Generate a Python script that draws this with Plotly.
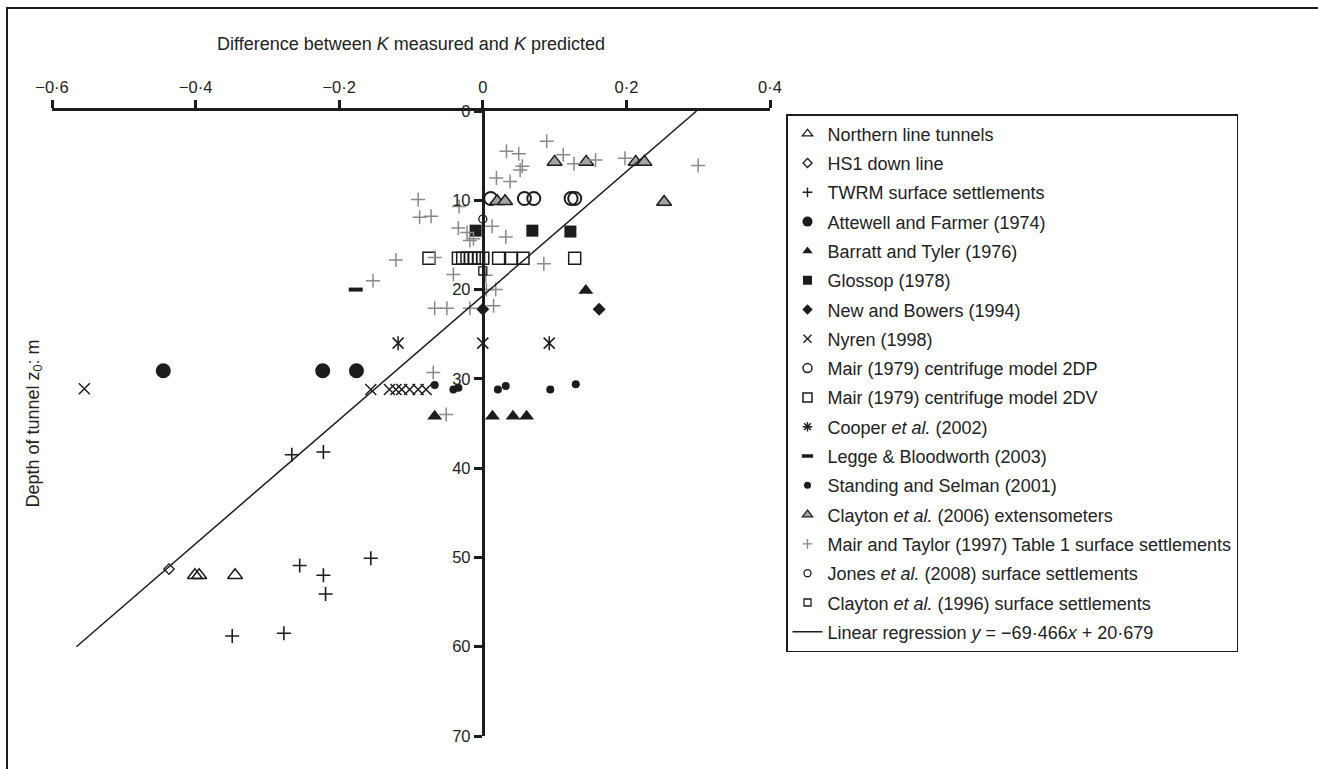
import plotly.graph_objects as go

# ---------------- data: x = K measured - K predicted, y = depth z0 (m) ----------------
northern_x = [-0.401, -0.395, -0.345]
northern_y = [52.0, 52.0, 52.0]

hs1_x = [-0.437]
hs1_y = [51.3]

twrm_x = [-0.266, -0.222, -0.255, -0.222, -0.219, -0.156, -0.349, -0.277]
twrm_y = [38.5, 38.2, 50.9, 52.0, 54.1, 50.1, 58.8, 58.5]

attewell_x = [-0.445, -0.223, -0.176]
attewell_y = [29.1, 29.1, 29.1]

barratt_x = [0.1435, -0.067, 0.0135, 0.042, 0.061]
barratt_y = [20.1, 34.2, 34.2, 34.2, 34.2]

glossop_x = [-0.010, 0.069, 0.122]
glossop_y = [13.4, 13.4, 13.5]

newbowers_x = [0.0, 0.162]
newbowers_y = [22.2, 22.2]

nyren_x = [-0.555, -0.156, -0.130, -0.121, -0.113, -0.102, -0.090, -0.079]
nyren_y = [31.1, 31.2, 31.2, 31.2, 31.2, 31.2, 31.2, 31.2]

mair2dp_x = [0.011, 0.058, 0.071, 0.123, 0.128]
mair2dp_y = [9.8, 9.8, 9.8, 9.8, 9.8]

mair2dv_x = [-0.075, -0.034, -0.028, -0.022, -0.017, -0.012, -0.006, 0.000,
             0.022, 0.040, 0.056, 0.128]
mair2dv_y = [16.5] * 12

cooper_x = [-0.118, 0.0, 0.0925]
cooper_y = [26.0, 26.0, 26.0]

legge_x = [-0.177]
legge_y = [20.0]

standing_x = [-0.067, -0.041, -0.034, 0.021, 0.032, 0.094, 0.1295]
standing_y = [30.7, 31.2, 31.0, 31.2, 30.8, 31.2, 30.6]

clayton06_x = [0.100, 0.144, 0.213, 0.225, 0.020, 0.031, 0.2525]
clayton06_y = [5.7, 5.7, 5.7, 5.7, 10.1, 10.1, 10.2]

mairtaylor_x = [0.089, 0.033, 0.050, 0.112, 0.127, 0.157, 0.198, 0.300, 0.055, 0.052,
                0.019, 0.038, -0.090, -0.033, -0.088, -0.072, -0.034, 0.013, -0.022,
                -0.013, -0.018, 0.032, -0.121, -0.067, 0.085, -0.041, 0.004, 0.005,
                0.018, -0.153, -0.067, -0.050, -0.018, 0.015, -0.069, -0.051]
mairtaylor_y = [3.4, 4.5, 4.8, 4.9, 5.9, 5.5, 5.3, 6.1, 6.2, 6.6,
                7.5, 7.9, 9.9, 10.7, 11.9, 11.8, 13.1, 12.9, 13.6,
                14.3, 14.5, 14.1, 16.7, 16.4, 17.1, 18.3, 18.4, 20.0,
                20.0, 19.0, 22.1, 22.1, 22.1, 21.8, 29.3, 34.0]

jones_x = [0.0]
jones_y = [12.1]

clayton96_x = [0.0]
clayton96_y = [17.9]

# linear regression y = slope * x + intercept, drawn over depths 60 m .. 0 m
reg_slope = -69.466
reg_intercept = 20.679
reg_depths = [60.0, 0.0]

x_ticks = [-0.6, -0.4, -0.2, 0.0, 0.2, 0.4]
x_ticklabels = ["\u22120\u00b76", "\u22120\u00b74", "\u22120\u00b72", "0", "0\u00b72", "0\u00b74"]
y_ticks = [0, 10, 20, 30, 40, 50, 60, 70]
y_ticklabels = ["0", "10", "20", "30", "40", "50", "60", "70"]

# ---------------- styling ----------------
INK = "#1c1c1c"
GREY = "#8a8a8a"
GREY_FILL = "#a3a3a3"
TXT = "#222222"
FONT = "Liberation Sans, Arial, sans-serif"

# (legend label, x, y, plot marker, legend marker)
series = [
    ("Northern line tunnels", northern_x, northern_y,
     dict(symbol="triangle-up-open", size=13, color=INK, line=dict(width=1.5, color=INK)),
     dict(symbol="triangle-up-open", size=9, color=INK, line=dict(width=1.3, color=INK))),
    ("HS1 down line", hs1_x, hs1_y,
     dict(symbol="diamond-open", size=8, color=INK, line=dict(width=1.3, color=INK)),
     dict(symbol="diamond-open", size=7, color=INK, line=dict(width=1.3, color=INK))),
    ("TWRM surface settlements", twrm_x, twrm_y,
     dict(symbol="cross-thin", size=10, color=INK, line=dict(width=1.6, color=INK)),
     dict(symbol="cross-thin", size=7, color=INK, line=dict(width=1.4, color=INK))),
    ("Attewell and Farmer (1974)", attewell_x, attewell_y,
     dict(symbol="circle", size=15, color=INK, line=dict(width=0)),
     dict(symbol="circle", size=10, color=INK, line=dict(width=0))),
    ("Barratt and Tyler (1976)", barratt_x, barratt_y,
     dict(symbol="triangle-up", size=13, color=INK, line=dict(width=0)),
     dict(symbol="triangle-up", size=9, color=INK, line=dict(width=0))),
    ("Glossop (1978)", glossop_x, glossop_y,
     dict(symbol="square", size=12, color=INK, line=dict(width=0)),
     dict(symbol="square", size=9, color=INK, line=dict(width=0))),
    ("New and Bowers (1994)", newbowers_x, newbowers_y,
     dict(symbol="diamond", size=10, color=INK, line=dict(width=0)),
     dict(symbol="diamond", size=8, color=INK, line=dict(width=0))),
    ("Nyren (1998)", nyren_x, nyren_y,
     dict(symbol="x-thin", size=11, color=INK, line=dict(width=1.5, color=INK)),
     dict(symbol="x-thin", size=8, color=INK, line=dict(width=1.4, color=INK))),
    ("Mair (1979) centrifuge model 2DP", mair2dp_x, mair2dp_y,
     dict(symbol="circle-open", size=13, color=INK, line=dict(width=2, color=INK)),
     dict(symbol="circle-open", size=9, color=INK, line=dict(width=1.5, color=INK))),
    ("Mair (1979) centrifuge model 2DV", mair2dv_x, mair2dv_y,
     dict(symbol="square-open", size=12, color=INK, line=dict(width=1.5, color=INK)),
     dict(symbol="square-open", size=9, color=INK, line=dict(width=1.5, color=INK))),
    ("Cooper <i>et al.</i> (2002)", cooper_x, cooper_y,
     dict(symbol="x-thin", size=11, color=INK, line=dict(width=1.5, color=INK)),
     dict(symbol="asterisk-open", size=8, color=INK, line=dict(width=1.4, color=INK))),
    ("Legge & Bloodworth (2003)", legge_x, legge_y,
     dict(symbol="line-ew", size=10, color=INK, line=dict(width=4, color=INK)),
     dict(symbol="line-ew", size=8, color=INK, line=dict(width=3.5, color=INK))),
    ("Standing and Selman (2001)", standing_x, standing_y,
     dict(symbol="circle", size=8, color=INK, line=dict(width=0)),
     dict(symbol="circle", size=7, color=INK, line=dict(width=0))),
    ("Clayton <i>et al.</i> (2006) extensometers", clayton06_x, clayton06_y,
     dict(symbol="triangle-up", size=13, color=GREY_FILL, line=dict(width=1.5, color=INK)),
     dict(symbol="triangle-up", size=9, color=GREY_FILL, line=dict(width=1.2, color=INK))),
    ("Mair and Taylor (1997) Table 1 surface settlements", mairtaylor_x, mairtaylor_y,
     dict(symbol="cross-thin", size=10, color=GREY, line=dict(width=1.5, color=GREY)),
     dict(symbol="cross-thin", size=7, color=GREY, line=dict(width=1.4, color=GREY))),
    ("Jones <i>et al.</i> (2008) surface settlements", jones_x, jones_y,
     dict(symbol="circle-open", size=8, color=INK, line=dict(width=1.3, color=INK)),
     dict(symbol="circle-open", size=7, color=INK, line=dict(width=1.3, color=INK))),
    ("Clayton <i>et al.</i> (1996) surface settlements", clayton96_x, clayton96_y,
     dict(symbol="square-open", size=8, color=INK, line=dict(width=1.3, color=INK)),
     dict(symbol="square-open", size=7, color=INK, line=dict(width=1.3, color=INK))),
]

fig = go.Figure()

reg_x = [(d - reg_intercept) / reg_slope for d in reg_depths]
reg_y = [reg_slope * xv + reg_intercept for xv in reg_x]

for name, xs, ys, mk, _ in series:
    fig.add_trace(go.Scatter(x=xs, y=ys, mode="markers", marker=mk,
                             showlegend=False, hoverinfo="skip"))
# Cooper et al. symbol: a cross with a vertical bar through it
fig.add_trace(go.Scatter(x=cooper_x, y=cooper_y, mode="markers",
                         marker=dict(symbol="line-ns", size=10, color=INK,
                                     line=dict(width=1.5, color=INK)),
                         showlegend=False, hoverinfo="skip"))

fig.add_trace(go.Scatter(x=reg_x, y=reg_y, mode="lines",
                         line=dict(color=INK, width=1.5), showlegend=False,
                         hoverinfo="skip"))

# legend entries, one group each so the row spacing can be set
for i, (name, xs, ys, _, lmk) in enumerate(series):
    fig.add_trace(go.Scatter(x=[None], y=[None], mode="markers", marker=lmk,
                             name=name, legendgroup=f"g{i}", showlegend=True))
fig.add_trace(go.Scatter(x=[None], y=[None], mode="lines",
                         line=dict(color=INK, width=1.5),
                         name="Linear regression <i>y</i> = \u221269\u00b7466<i>x</i> + 20\u00b7679",
                         legendgroup="greg", showlegend=True))

W, H = 1318, 769
L, R, T, B = 52, 548, 111, 33
PW, PH = W - L - R, H - T - B


def px_to_paper_x(px):
    return (px - L) / PW


def px_to_paper_y(py):
    return 1 - (py - T) / PH


fig.update_layout(
    width=W, height=H,
    margin=dict(l=L, r=R, t=T, b=B, pad=0),
    paper_bgcolor="white", plot_bgcolor="white",
    font=dict(family=FONT, size=16, color=TXT),
    xaxis=dict(range=[-0.6, 0.4], side="top", tickmode="array",
               tickvals=x_ticks, ticktext=x_ticklabels,
               showgrid=False, zeroline=False, showline=True,
               linecolor=INK, linewidth=3, ticks="outside", ticklen=8,
               tickwidth=2.5, tickcolor=INK, automargin=False,
               tickfont=dict(size=16.5, color=TXT)),
    yaxis=dict(range=[70, 0], anchor="free", position=0.6, side="left",
               tickmode="array", tickvals=y_ticks, ticktext=y_ticklabels,
               showgrid=False, zeroline=False, showline=True,
               linecolor=INK, linewidth=3, ticks="outside", ticklen=8,
               tickwidth=2.5, tickcolor=INK, automargin=False,
               tickfont=dict(size=16.5, color=TXT)),
    legend=dict(x=px_to_paper_x(786), y=px_to_paper_y(114),
                xanchor="left", yanchor="top",
                bordercolor=INK, borderwidth=1.5, bgcolor="white",
                font=dict(family=FONT, size=18, color=TXT),
                traceorder="grouped", tracegroupgap=2.9,
                itemsizing="trace"),
    annotations=[
        dict(text="Difference between <i>K</i> measured and <i>K</i> predicted",
             xref="paper", yref="paper", x=0.5, y=px_to_paper_y(44),
             xanchor="center", yanchor="middle", showarrow=False,
             font=dict(size=18, color=TXT)),
        dict(text="Depth of tunnel z<sub>0</sub>: m",
             xref="paper", yref="paper", x=px_to_paper_x(34), y=0.5,
             xanchor="center", yanchor="middle", textangle=-90, showarrow=False,
             font=dict(size=18, color=TXT)),
    ],
    shapes=[
        # outer frame: top and left edges
        dict(type="line", xref="paper", yref="paper",
             x0=px_to_paper_x(7), x1=px_to_paper_x(W + 20),
             y0=px_to_paper_y(8), y1=px_to_paper_y(8),
             line=dict(color=INK, width=2)),
        dict(type="line", xref="paper", yref="paper",
             x0=px_to_paper_x(7), x1=px_to_paper_x(7),
             y0=px_to_paper_y(7), y1=px_to_paper_y(H + 20),
             line=dict(color=INK, width=2)),
    ],
)

fig.write_html("out.html")
